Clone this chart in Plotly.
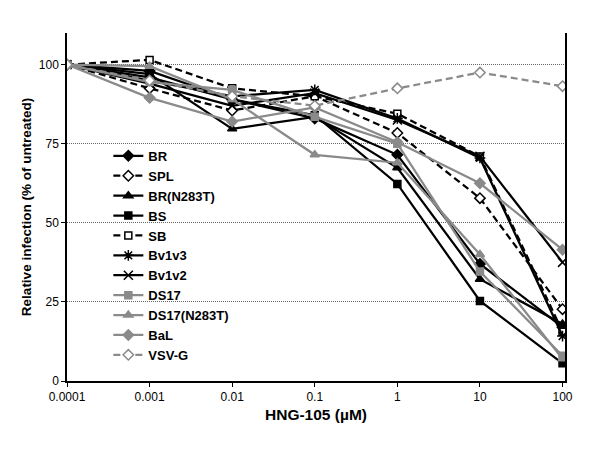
import plotly.graph_objects as go

conc = [0.0001, 0.001, 0.01, 0.1, 1, 10, 100]
tick_labels = ["0.0001", "0.001", "0.01", "0.1", "1", "10", "100"]

BR = [100, 98, 89, 83, 71.5, 37, 17]
SPL = [100, 92.5, 85.5, 90, 78.4, 57.8, 22.7]
BR_N283T = [100, 97, 79.7, 83.5, 67.4, 32.2, 18]
BS = [100, 96, 89, 84, 62.3, 25.3, 5.6]
SB = [100, 101.5, 92.5, 90, 84.5, 71, 15.6]
Bv1v3 = [100, 95, 90, 92, 83, 70.5, 14.2]
Bv1v2 = [100, 94, 87, 91, 82.5, 71, 37.5]
DS17 = [100, 94.5, 92, 83.5, 75, 34.6, 8]
DS17_N283T = [100, 99.5, 89, 71.5, 69, 40, 7]
BaL = [100, 89.5, 82, 86.5, 75.5, 62.5, 41.5]
VSV_G = [100, 95, 90, 87, 92.5, 97.5, 93.2]

names = ["BR", "SPL", "BR(N283T)", "BS", "SB", "Bv1v3", "Bv1v2",
         "DS17", "DS17(N283T)", "BaL", "VSV-G"]
values = [BR, SPL, BR_N283T, BS, SB, Bv1v3, Bv1v2, DS17, DS17_N283T, BaL, VSV_G]

BLACK = "#000000"
GREY = "#8a8a8a"
DASH = "7px,4px"
# (colour, dash, symbol, size, fill)
styles = [
    (BLACK, "solid", "diamond", 8, BLACK),
    (BLACK, DASH, "diamond", 8, "white"),
    (BLACK, "solid", "triangle-up", 8, BLACK),
    (BLACK, "solid", "square", 7, BLACK),
    (BLACK, DASH, "square", 7, "white"),
    (BLACK, "solid", "asterisk-open", 9, BLACK),
    (BLACK, "solid", "x-thin-open", 9, BLACK),
    (GREY, "solid", "square", 7, GREY),
    (GREY, "solid", "triangle-up", 8, GREY),
    (GREY, "solid", "diamond", 8, GREY),
    (GREY, DASH, "diamond", 8, "white"),
]

fig = go.Figure()
for name, vals, (col, dash, sym, sz, fill) in zip(names, values, styles):
    fig.add_trace(go.Scatter(
        x=conc, y=vals, name=name, mode="lines+markers",
        line=dict(color=col, width=2.25, dash=dash),
        marker=dict(symbol=sym, size=sz, color=fill,
                    line=dict(color=col, width=1.5)),
    ))

font_family = "Arial, Liberation Sans, sans-serif"
fig.update_layout(
    width=600, height=450,
    margin=dict(l=59, r=43, t=25, b=77),
    paper_bgcolor="white", plot_bgcolor="white",
    font=dict(family=font_family, size=12, color="black"),
    showlegend=True,
    legend=dict(x=0.083, y=0.69, xanchor="left", yanchor="top",
                bgcolor="rgba(0,0,0,0)", font=dict(size=13, family=font_family, weight="bold"),
                tracegroupgap=0, itemwidth=30),
    xaxis=dict(type="log", range=[-4, 2.03],
               tickvals=conc, ticktext=tick_labels,
               showgrid=False, showline=True, linecolor="black", linewidth=1.5,
               ticks="outside", ticklen=4, tickcolor="black",
               title=dict(text="HNG-105 (µM)", font=dict(size=15.5, weight="bold"), standoff=6),
               zeroline=False),
    yaxis=dict(range=[0, 110], tickvals=[0, 25, 50, 75, 100],
               showgrid=True, gridcolor="#666666", griddash="1px,1px", gridwidth=0.8,
               showline=True, linecolor="black", linewidth=1.5, mirror=True,
               ticks="outside", ticklen=4, tickcolor="black",
               title=dict(text="Relative infection (% of untreated)", font=dict(size=13.5, weight="bold"), standoff=4),
               zeroline=False),
)

fig.write_html("out.html")
